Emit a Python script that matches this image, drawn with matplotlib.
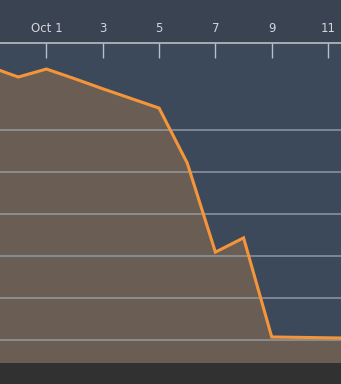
import matplotlib
matplotlib.use('Agg')
import matplotlib.pyplot as plt
from matplotlib.patches import Rectangle

# Day index: Oct 1 = 1, Sep 30 = 0, Sep 29 = -1
days = [-1, 0, 1, 2, 3, 4, 5, 6, 7, 8, 9, 10, 11, 12]
values = [6.50, 6.26, 6.45, 6.22, 5.98, 5.75, 5.52, 4.21, 2.09, 2.43, 0.07, 0.06, 0.05, 0.04]

tick_days = [1, 3, 5, 7, 9, 11]
tick_labels = ['Oct 1', '3', '5', '7', '9', '11']

fig = plt.figure(figsize=(3.41, 3.84), dpi=100, facecolor='#3a4352')
ax = fig.add_axes([0, 21 / 384, 1, 320 / 384])
ax.set_facecolor('#3c495b')

# dark strip at the bottom
fig.patches.append(Rectangle((0, 0), 1, 21 / 384, transform=fig.transFigure,
                             facecolor='#313131', edgecolor='none', zorder=0))

ybot = -0.55
ax.fill_between(days, values, ybot, color='#6a5e54', zorder=1)
ax.plot(days, values, color='#f5953a', lw=2.2, zorder=3, solid_joinstyle='miter')

for g in range(0, 6):
    ax.axhline(g, color='#9aa1ab', lw=1.3, alpha=0.75, zorder=2)

ax.set_xlim(-0.65, 11.46)
ax.set_ylim(ybot, 7.07)

ax.xaxis.tick_top()
ax.set_xticks(tick_days)
ax.set_xticklabels(tick_labels, color='#d2d6dc', fontsize=8.5)
ax.tick_params(axis='x', direction='in', length=11, width=1, color='#b8bec6', pad=6)
ax.set_yticks([])

for side in ['left', 'right', 'bottom']:
    ax.spines[side].set_visible(False)
ax.spines['top'].set_color('#b8bec6')
ax.spines['top'].set_linewidth(1.2)

fig.savefig('out.png', dpi=100, facecolor=fig.get_facecolor())
